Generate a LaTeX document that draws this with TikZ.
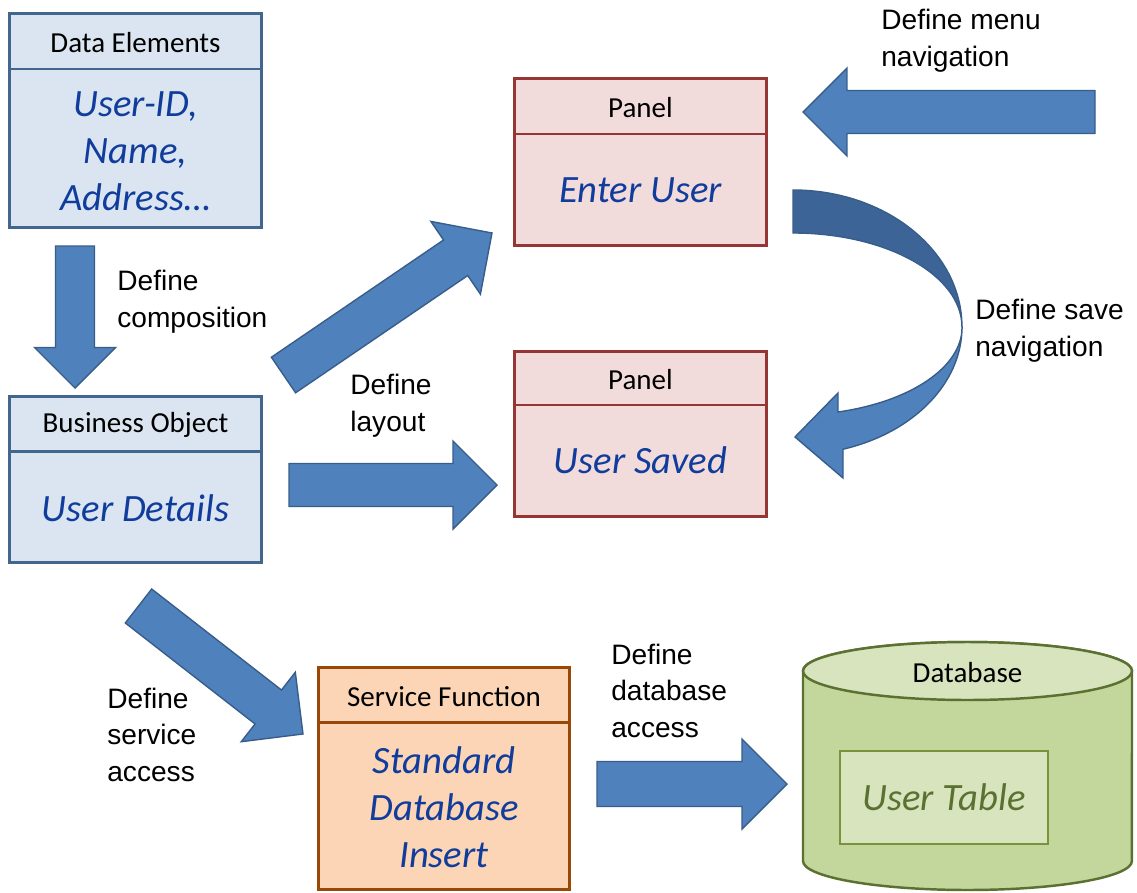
\documentclass[tikz,border=0pt]{standalone}
\usepackage{fontspec}
\setmainfont{Carlito}
\newfontfamily\notefont{Liberation Sans}
\usepackage{tikz}
\usetikzlibrary{calc}

\definecolor{arrowblue}{HTML}{4F81BD}
\definecolor{arrowdark}{HTML}{3D6496}
\definecolor{arrowline}{HTML}{385D8A}
\definecolor{boxblue}{HTML}{DBE5F1}
\definecolor{boxblueline}{HTML}{43668F}
\definecolor{panelred}{HTML}{F2DCDB}
\definecolor{panelline}{HTML}{963634}
\definecolor{serviceorange}{HTML}{FBD5B5}
\definecolor{serviceline}{HTML}{984807}
\definecolor{dbgreen}{HTML}{C3D69B}
\definecolor{dblight}{HTML}{D7E4BD}
\definecolor{dbline}{HTML}{5B7131}
\definecolor{tableline}{HTML}{77933C}
\definecolor{itemblue}{HTML}{103C9C}

\tikzset{
  fat/.style={fill=arrowblue, draw=arrowline, line width=0.8pt, line join=miter},
  umlbox/.style={draw, line width=1.7pt, minimum width=5.06cm, inner sep=0pt},
  bluebox/.style={umlbox, draw=boxblueline, fill=boxblue},
  panelbox/.style={umlbox, draw=panelline, fill=panelred},
  servicebox/.style={umlbox, draw=serviceline, fill=serviceorange},
  headtext/.style={font=\fontsize{16.5}{20}\selectfont},
  itemtext/.style={font=\fontsize{22}{26.7}\selectfont\itshape, text=itemblue, align=center},
  notetext/.style={font=\notefont\fontsize{16}{20.5}\selectfont, align=left, anchor=base west, inner sep=0pt},
}

% block arrow: shaft half width, head half width (= head length), tail, tip
\newcommand{\fatarrow}[4]{%
  \coordinate (headbase) at ($(#4)!#2!(#3)$);
  \draw[fat] ($(#3)!#1!90:(#4)$) -- ($(headbase)!#1!90:(#4)$) -- ($(headbase)!#2!90:(#4)$) -- (#4)
    -- ($(headbase)!#2!-90:(#4)$) -- ($(headbase)!#1!-90:(#4)$) -- ($(#3)!#1!-90:(#4)$) -- cycle;
}

\begin{document}
\begin{tikzpicture}[x=0.02cm, y=-0.02cm]
\useasboundingbox (0,0) rectangle (1137,893);

% boxes
\node (elements) at (135.5,120.5) [bluebox, minimum height=4.3cm] {};
\draw[boxblueline, line width=1.7pt] (elements.west |- 0,69) -- (elements.east |- 0,69);
\node (elementshead) at (135.5,43) [headtext] {Data Elements};
\node (elementsbody) at (135.5,151) [itemtext] {User-ID,\\Name,\\Address…};

\node (object) at (135.5,479.5) [bluebox, minimum height=3.34cm] {};
\draw[boxblueline, line width=1.7pt] (object.west |- 0,451) -- (object.east |- 0,451);
\node (objecthead) at (135.5,425) [headtext] {Business Object};
\node (objectbody) at (135.5,508) [itemtext] {User Details};

\node (enter) at (640.5,162) [panelbox, minimum height=3.36cm] {};
\draw[panelline, line width=1.7pt] (enter.west |- 0,134) -- (enter.east |- 0,134);
\node (enterhead) at (640.5,108) [headtext] {Panel};
\node (enterbody) at (640.5,190) [itemtext] {Enter User};

\node (saved) at (640.5,434) [panelbox, minimum height=3.32cm] {};
\draw[panelline, line width=1.7pt] (saved.west |- 0,405) -- (saved.east |- 0,405);
\node (savedhead) at (640.5,380) [headtext] {Panel};
\node (savedbody) at (640.5,460) [itemtext] {User Saved};

\node (service) at (444,778.5) [servicebox, minimum width=5.04cm, minimum height=4.46cm] {};
\draw[serviceline, line width=1.7pt] (service.west |- 0,722) -- (service.east |- 0,722);
\node (servicehead) at (444,697) [headtext] {Service Function};
\node (servicebody) at (444,807) [itemtext] {Standard\\Database\\Insert};

% database cylinder
\draw[fill=dbgreen, draw=dbline, line width=1.4pt] (803,671) -- (803,861)
  arc[start angle=180, end angle=360, x radius=3.29cm, y radius=0.58cm] -- (1132,671)
  arc[start angle=0, end angle=180, x radius=3.29cm, y radius=0.58cm] -- cycle;
\draw[fill=dblight, draw=dbline, line width=1.4pt] (967.5,671) ellipse [x radius=3.29cm, y radius=0.58cm];
\node (dbhead) at (967.5,673) [headtext] {Database};
\node (usertable) at (944,797.5) [draw=tableline, fill=dblight, line width=1.2pt, minimum width=4.16cm, minimum height=1.86cm, font=\fontsize{22}{26.7}\selectfont\itshape, text=dbline] {User Table};

% arrow ends
\coordinate (comptail) at (75,246);
\coordinate (comptip) at (75,388);
\coordinate (entertail) at (283.5,375);
\coordinate (entertip) at (492,233);
\coordinate (layouttail) at (289,485);
\coordinate (layouttip) at (497,485);
\coordinate (menutail) at (1095,112);
\coordinate (menutip) at (803,112);
\coordinate (servicetail) at (138.5,606);
\coordinate (servicetip) at (303,734);
\coordinate (dbtail) at (597,784);
\coordinate (dbtip) at (787,784);

\fatarrow{0.39cm}{0.81cm}{comptail}{comptip}
\fatarrow{0.43cm}{0.88cm}{entertail}{entertip}
\fatarrow{0.43cm}{0.88cm}{layouttail}{layouttip}
\fatarrow{0.43cm}{0.88cm}{menutail}{menutip}
\fatarrow{0.43cm}{0.88cm}{servicetail}{servicetip}
\fatarrow{0.45cm}{0.9cm}{dbtail}{dbtip}

% save navigation, a bent ribbon
\draw[fat] (962,327) arc[start angle=0, end angle=-72.8, x radius=3.38cm, y radius=2.56cm]
  -- (843,478) -- (795,437) -- (838,393) -- (838,412)
  arc[start angle=-74.6, end angle=0, x radius=3.38cm, y radius=1.76cm] -- cycle;
\draw[fat, fill=arrowdark] (793,190) arc[start angle=90, end angle=0, x radius=3.38cm, y radius=2.74cm]
  arc[start angle=0, end angle=90, x radius=3.38cm, y radius=1.88cm] -- cycle;

% labels (anchored on the baseline of their last line)
\node (menunote) at (881,66) [notetext] {Define menu\\navigation};
\node (compnote) at (117,327) [notetext] {Define\\composition};
\node (savenote) at (975,356) [notetext] {Define save\\navigation};
\node (layoutnote) at (350,431) [notetext] {Define\\layout};
\node (servicenote) at (107,781) [notetext] {Define\\service\\access};
\node (dbnote) at (611,737) [notetext] {Define\\database\\access};
\end{tikzpicture}
\end{document}
